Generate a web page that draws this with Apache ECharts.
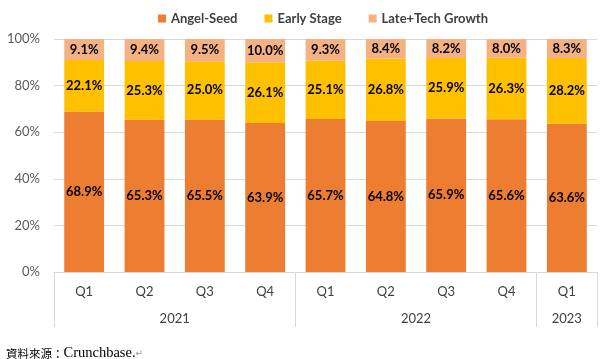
<!DOCTYPE html>
<html>
<head>
<meta charset="utf-8">
<script src="https://cdn.jsdelivr.net/npm/echarts@6/dist/echarts.min.js"></script>
<style>html,body{margin:0;padding:0;background:#fff;}#c{width:600px;height:359px;}</style>
</head>
<body>
<div id="c"></div>
<script>
var quarters = ['Q1','Q2','Q3','Q4','Q1','Q2','Q3','Q4','Q1'];
var yearLabels = [{pos: 2, text: '2021'}, {pos: 6, text: '2022'}, {pos: 8.5, text: '2023'}];
var groupStarts = [0, 4, 8];
var angelSeed = [68.9, 65.3, 65.5, 63.9, 65.7, 64.8, 65.9, 65.6, 63.6];
var earlyStage = [22.1, 25.3, 25.0, 26.1, 25.1, 26.8, 25.9, 26.3, 28.2];
var lateGrowth = [9.1, 9.4, 9.5, 10.0, 9.3, 8.4, 8.2, 8.0, 8.3];
var yTicks = [0, 20, 40, 60, 80, 100];

var font = 'Lato, "Noto Sans", sans-serif';
function mkSeries(name, data, color) {
  return {
    name: name, type: 'bar', stack: 'total', data: data, barWidth: '66%',
    itemStyle: {color: color},
    label: {show: true, position: 'inside', fontFamily: font, fontWeight: 'bold', fontSize: 13, color: '#000',
      formatter: function (p) { return p.value.toFixed(1) + '%'; }}
  };
}
var chart = echarts.init(document.getElementById('c'));
chart.setOption({
  animation: false,
  title: {
    text: '{c|資料來源：}{l|Crunchbase.}{m|↵}', left: 1, top: 341,
    textStyle: {
      fontWeight: 'normal',
      rich: {
        c: {fontFamily: '"Noto Sans CJK TC", serif', fontWeight: 'normal', fontSize: 11.5, color: '#000'},
        l: {fontFamily: '"Liberation Serif", serif', fontWeight: 'normal', fontSize: 14.5, color: '#000'},
        m: {fontSize: 9, fontWeight: 'normal', color: '#999', fontFamily: '"DejaVu Sans"'}
      }}
  },
  legend: {
    top: 7, left: 153, icon: 'rect', itemWidth: 8, itemHeight: 8, itemGap: 27,
    textStyle: {fontFamily: font, fontWeight: 'bold', fontSize: 13, color: '#404040'}
  },
  grid: {left: 54, right: 2.5, top: 39, bottom: 87},
  xAxis: [{
    type: 'category', data: quarters,
    axisLine: {lineStyle: {color: '#d9d9d9'}},
    axisTick: {show: true, length: 55, lineStyle: {color: '#d9d9d9'},
      interval: function (i) { return groupStarts.indexOf(i) >= 0; }},
    axisLabel: {interval: 0, margin: 13, fontFamily: font, fontSize: 13, color: '#404040'}
  }, {
    type: 'value', min: 0, max: 9, interval: 0.5, position: 'bottom',
    axisLine: {show: false}, axisTick: {show: false}, splitLine: {show: false},
    axisLabel: {margin: 40, fontFamily: font, fontSize: 13, color: '#404040', showMinLabel: true, showMaxLabel: true,
      formatter: function (v) {
        for (var k = 0; k < yearLabels.length; k++) if (Math.abs(yearLabels[k].pos - v) < 1e-6) return yearLabels[k].text;
        return '';
      }}
  }],
  yAxis: {
    type: 'value', min: yTicks[0], max: yTicks[yTicks.length - 1], interval: yTicks[1] - yTicks[0],
    axisLine: {show: false}, axisTick: {show: false},
    splitLine: {lineStyle: {color: '#d9d9d9'}},
    axisLabel: {margin: 14, fontFamily: font, fontSize: 13, color: '#595959', formatter: '{value}%'}
  },
  series: [
    mkSeries('Angel-Seed', angelSeed, '#ED7D31'),
    mkSeries('Early Stage', earlyStage, '#FFC000'),
    mkSeries('Late+Tech Growth', lateGrowth, '#F4B183')
  ]
});
</script>
</body>
</html>
